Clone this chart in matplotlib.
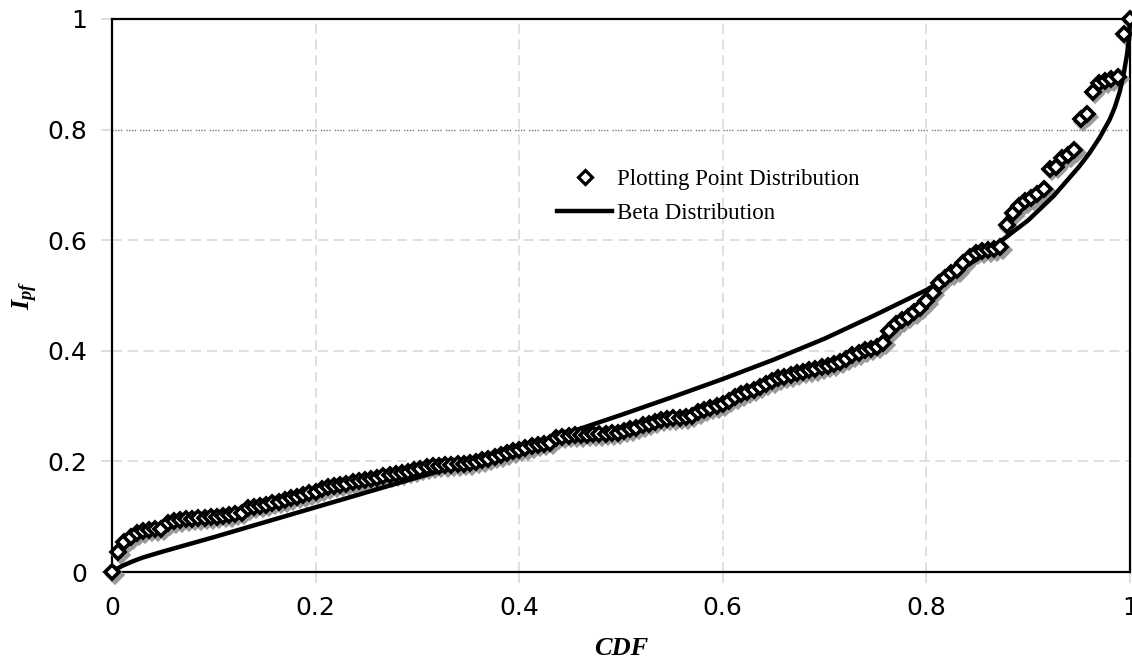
import matplotlib
matplotlib.use("Agg")
import matplotlib.pyplot as plt
from matplotlib import transforms
from matplotlib.lines import Line2D

plt.rcParams['mathtext.fontset'] = 'custom'
plt.rcParams['mathtext.bfit'] = 'Liberation Serif:italic:bold'
plt.rcParams['mathtext.rm'] = 'Liberation Serif'
plt.rcParams['mathtext.it'] = 'Liberation Serif:italic'
plt.rcParams['mathtext.bf'] = 'Liberation Serif:bold'

# ---- data ----
# Plotting-point distribution: sorted I_pf values (rank i of n=166 points)
ipf_points = [
    0.000, 0.036, 0.054, 0.063, 0.070, 0.074, 0.076, 0.077, 0.078, 0.088,
    0.092, 0.094, 0.095, 0.096, 0.097, 0.098, 0.099, 0.100, 0.102, 0.103,
    0.105, 0.107, 0.115, 0.118, 0.120, 0.122, 0.125, 0.127, 0.130, 0.133,
    0.136, 0.139, 0.142, 0.145, 0.150, 0.153, 0.156, 0.158, 0.160, 0.162,
    0.164, 0.166, 0.168, 0.170, 0.173, 0.175, 0.177, 0.179, 0.181, 0.184,
    0.187, 0.189, 0.191, 0.192, 0.193, 0.194, 0.195, 0.196, 0.197, 0.199,
    0.202, 0.205, 0.208, 0.211, 0.215, 0.218, 0.221, 0.224, 0.227, 0.230,
    0.232, 0.234, 0.243, 0.245, 0.246, 0.247, 0.247, 0.248, 0.249, 0.249,
    0.250, 0.251, 0.252, 0.255, 0.258, 0.261, 0.265, 0.268, 0.272, 0.275,
    0.277, 0.278, 0.279, 0.280, 0.283, 0.289, 0.293, 0.297, 0.300, 0.303,
    0.310, 0.316, 0.321, 0.326, 0.330, 0.335, 0.340, 0.345, 0.350, 0.353,
    0.356, 0.359, 0.362, 0.365, 0.367, 0.370, 0.373, 0.376, 0.380, 0.386,
    0.392, 0.396, 0.401, 0.404, 0.407, 0.415, 0.435, 0.448, 0.455, 0.462,
    0.470, 0.478, 0.490, 0.505, 0.522, 0.532, 0.540, 0.546, 0.558, 0.570,
    0.577, 0.580, 0.582, 0.584, 0.587, 0.627, 0.649, 0.661, 0.670, 0.676,
    0.683, 0.693, 0.729, 0.733, 0.748, 0.754, 0.763, 0.819, 0.828, 0.868,
    0.884, 0.887, 0.891, 0.896, 0.973, 1.000,
]
# empirical CDF (plotting position) of each ranked point
n_points = len(ipf_points)
cdf_points = [i / (n_points - 1) for i in range(n_points)]

# Beta distribution quantile curve
beta_cdf = [0.0, 0.005, 0.01, 0.02, 0.03, 0.05, 0.075, 0.1, 0.15, 0.2, 0.25,
            0.3, 0.35, 0.4, 0.45, 0.5, 0.55, 0.6, 0.65, 0.7, 0.75, 0.8, 0.85,
            0.9, 0.925, 0.95, 0.96, 0.97, 0.98, 0.985, 0.99, 0.994, 0.997,
            0.999, 1.0]
beta_ipf = [0.0, 0.006, 0.011, 0.019, 0.026, 0.037, 0.050, 0.063, 0.090, 0.117,
            0.144, 0.171, 0.197, 0.224, 0.253, 0.284, 0.316, 0.349, 0.384,
            0.422, 0.465, 0.510, 0.566, 0.636, 0.680, 0.733, 0.757, 0.785,
            0.818, 0.840, 0.869, 0.903, 0.935, 0.965, 1.0]

xticks = [0, 0.2, 0.4, 0.6, 0.8, 1.0]
xtick_labels = ['0', '0.2', '0.4', '0.6', '0.8', '1']
yticks = [0, 0.2, 0.4, 0.6, 0.8, 1.0]
ytick_labels = ['0', '0.2', '0.4', '0.6', '0.8', '1']

# ---- figure ----
fig = plt.figure(figsize=(11.32, 6.6), dpi=100)
ax = fig.add_axes([112 / 1132, 88 / 660, 1018 / 1132, 553 / 660])

MS = 7.5
MEW = 2.6
shadow = transforms.offset_copy(ax.transData, fig=fig, x=2.5, y=-2.5, units='dots')
ax.plot(cdf_points, ipf_points, ls='none', marker='D', ms=MS, mfc='#8a8a8a',
        mec='#9a9a9a', mew=MEW + 0.6, transform=shadow, zorder=3, clip_on=False)
ax.plot(beta_cdf, beta_ipf, color='black', lw=3.2, zorder=3.5,
        solid_capstyle='round', solid_joinstyle='round', clip_on=False)
ax.plot(cdf_points, ipf_points, ls='none', marker='D', ms=MS, mfc='white',
        mec='black', mew=MEW, zorder=4, clip_on=False)

ax.set_xlim(0, 1)
ax.set_ylim(0, 1)
ax.set_xticks(xticks)
ax.set_xticklabels(xtick_labels)
ax.set_yticks(yticks)
ax.set_yticklabels(ytick_labels)

ax.grid(True, color='#d9d9d9', linestyle=(0, (6, 3.5)), linewidth=1.2, zorder=0)
ax.set_axisbelow(True)
gl = ax.yaxis.get_gridlines()[4]
gl.set_color('#777777')
gl.set_linestyle((0, (1, 1, 1, 1, 1, 1, 1, 3)))
gl.set_linewidth(1.0)

ax.tick_params(axis='both', length=8, width=1.2, color='#d9d9d9',
               labelsize=18, labelcolor='black')
ax.tick_params(axis='y', pad=10)
ax.tick_params(axis='x', pad=9.5)

for s in ax.spines.values():
    s.set_linewidth(1.6)
    s.set_color('black')

ax.set_xlabel('CDF', fontfamily='Liberation Serif', fontweight='bold',
              fontstyle='italic', fontsize=19)
ax.xaxis.set_label_coords(0.5, -0.118)
ax.set_ylabel(r'$\mathbfit{I}_{\mathbfit{pf}}$', fontsize=19)
ax.yaxis.set_label_coords(-0.071, 0.5)

handles = [
    Line2D([], [], ls='none', marker='D', ms=MS - 0.5, mfc='white', mec='black', mew=MEW - 0.3),
    Line2D([], [], color='black', lw=3.2),
]
labels = ['Plotting Point Distribution', 'Beta Distribution']
leg = ax.legend(handles, labels, loc='upper left',
                bbox_to_anchor=(557 / 1132, 1 - 169 / 660),
                bbox_transform=fig.transFigure, frameon=False,
                prop={'family': 'Liberation Serif', 'size': 16.5},
                handlelength=2.4, handletextpad=0.22, borderpad=0,
                borderaxespad=0, labelspacing=0.55)

fig.savefig('out.png', dpi=100)
